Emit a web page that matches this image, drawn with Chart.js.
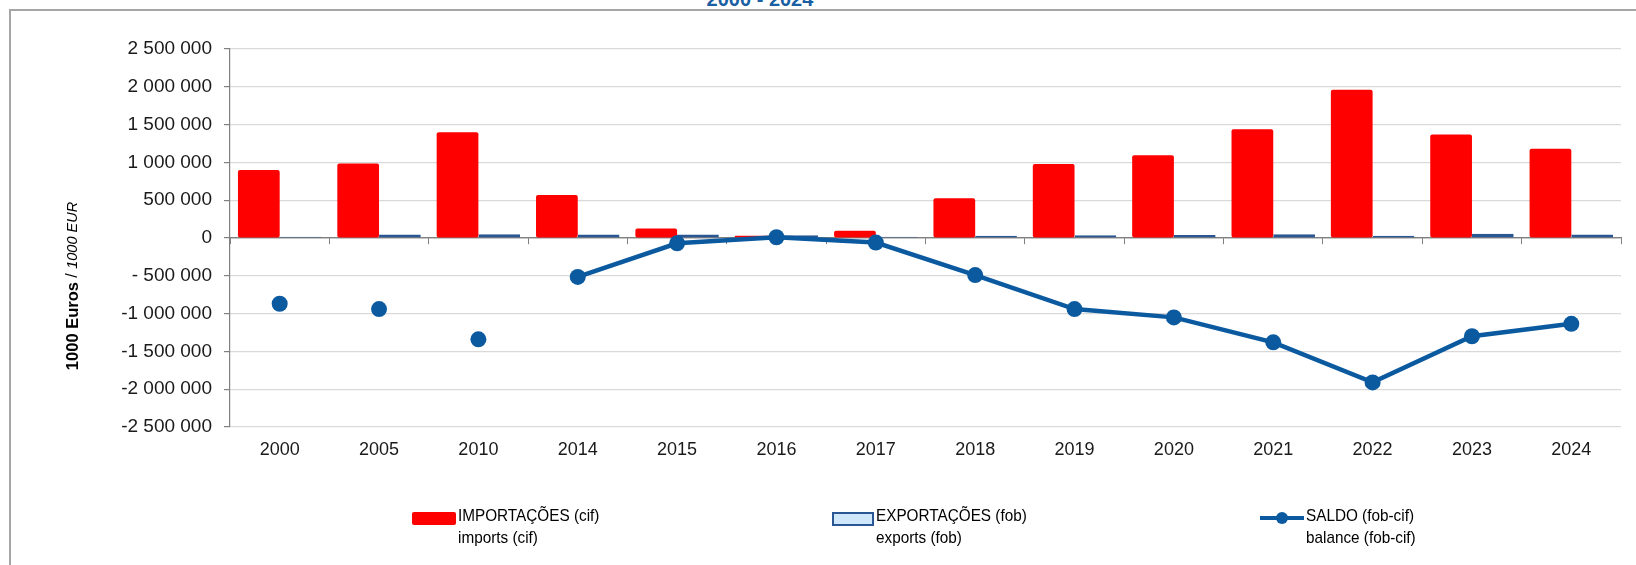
<!DOCTYPE html>
<html>
<head>
<meta charset="utf-8">
<script src="https://cdn.jsdelivr.net/npm/chart.js@4"></script>
<style>
    html, body { margin: 0; padding: 0; width: 1636px; height: 565px; overflow: hidden; background: #fff;
                 font-family: "Liberation Sans", Arial, sans-serif; }
    #frame { position: absolute; left: 9px; top: 9px; width: 1700px; height: 620px;
             border-left: 2px solid #a6a6a6; border-top: 2px solid #a6a6a6; }
    #title { position: absolute; left: 0; top: -11px; width: 1520px; text-align: center;
             font-size: 20px; line-height: 20px; font-weight: bold; color: #1a5fa3; }
    #wrap { position: absolute; left: 0; top: 0; width: 1636px; height: 565px; }
    .lg { position: absolute; top: 505px; font-size: 17px; line-height: 22px; color: #000; }
    .lg span { display: block; transform: scaleX(0.9); transform-origin: left; white-space: nowrap; }
    .sw { position: absolute; }
</style>
</head>
<body>
<div id="frame"></div>
<div id="title">2000 - 2024</div>
<div id="wrap"><canvas id="chart"></canvas></div>

<div class="sw" style="left:412px; top:512px; width:44px; height:13px; background:#ff0000; border-radius:2px;"></div>
<div class="lg" style="left:458px;"><span>IMPORTAÇÕES (cif)</span><span>imports (cif)</span></div>

<div class="sw" style="left:832px; top:512px; width:38px; height:10px; background:#cfe6fb; border:2px solid #2a5793;"></div>
<div class="lg" style="left:876px;"><span>EXPORTAÇÕES (fob)</span><span>exports (fob)</span></div>

<div class="sw" style="left:1260px; top:516px; width:44px; height:4px; background:#0b5aa0;"></div>
<div class="sw" style="left:1276px; top:512px; width:12px; height:12px; background:#0b5aa0; border-radius:50%;"></div>
<div class="lg" style="left:1306px;"><span>SALDO (fob-cif)</span><span>balance (fob-cif)</span></div>

<script>
var years = ['2000', '2005', '2010', '2014', '2015', '2016', '2017', '2018', '2019', '2020', '2021', '2022', '2023', '2024'];

var imports = [900000, 985000, 1400000, 570000, 125000, 30000, 95000, 525000, 980000, 1095000, 1440000, 1960000, 1370000, 1180000];
var exports = [15000, 45000, 50000, 45000, 45000, 35000, 15000, 30000, 35000, 40000, 50000, 30000, 55000, 45000];
var saldo   = [-870000, -940000, -1340000, -515000, -70000, 10000, -60000, -490000, -940000, -1050000, -1380000, -1910000, -1300000, -1135000];

// line only joins points from 2014 on
var firstLinkedIndex = 3;

var yTickValues = [2500000, 2000000, 1500000, 1000000, 500000, 0, -500000, -1000000, -1500000, -2000000, -2500000];
var yTickLabels = ['2 500 000', '2 000 000', '1 500 000', '1 000 000', '500 000', '0',
                   '- 500 000', '-1 000 000', '-1 500 000', '-2 000 000', '-2 500 000'];

var yTitleBold = '1000 Euros';
var yTitleSep = ' / ';
var yTitleUnit = '1000 EUR';

var FONT = '"Liberation Sans", Arial, sans-serif';

var yTitlePlugin = {
    id: 'yTitle',
    afterDraw: function(chart) {
        var ctx = chart.ctx;
        var parts = [
            [yTitleBold, 'bold 16.5px ' + FONT],
            [yTitleSep, '16px ' + FONT],
            [yTitleUnit, 'italic 14.5px ' + FONT]
        ];
        ctx.save();
        ctx.translate(73, 286);
        ctx.rotate(-Math.PI / 2);
        ctx.textBaseline = 'middle';
        ctx.textAlign = 'left';
        ctx.fillStyle = '#000';
        var total = 0;
        parts.forEach(function(p) { ctx.font = p[1]; total += ctx.measureText(p[0]).width; });
        var x = -total / 2;
        parts.forEach(function(p) {
            ctx.font = p[1];
            ctx.fillText(p[0], x, 0);
            x += ctx.measureText(p[0]).width;
        });
        ctx.restore();
    }
};

new Chart(document.getElementById('chart').getContext('2d'), {
    data: {
        labels: years,
        datasets: [
            {
                type: 'line',
                label: 'SALDO (fob-cif)',
                data: saldo,
                order: 0,
                borderColor: '#0b5aa0',
                backgroundColor: '#0b5aa0',
                borderWidth: 4.5,
                pointRadius: 8,
                pointHoverRadius: 8,
                pointBorderWidth: 0,
                tension: 0,
                segment: {
                    borderColor: function(c) { return c.p0DataIndex < firstLinkedIndex ? 'transparent' : '#0b5aa0'; }
                }
            },
            {
                type: 'bar',
                label: 'IMPORTAÇÕES (cif)',
                data: imports,
                order: 1,
                backgroundColor: '#ff0000',
                borderRadius: 2,
                borderSkipped: false,
                categoryPercentage: 0.84,
                barPercentage: 1.0
            },
            {
                type: 'bar',
                label: 'EXPORTAÇÕES (fob)',
                data: exports,
                order: 1,
                backgroundColor: '#cfe6fb',
                borderColor: '#2a5793',
                borderWidth: 2,
                borderSkipped: false,
                categoryPercentage: 0.84,
                barPercentage: 1.0
            }
        ]
    },
    options: {
        responsive: true,
        maintainAspectRatio: false,
        animation: false,
        layout: { padding: { left: 0, right: 15, top: 49, bottom: 98 } },
        plugins: {
            legend: { display: false },
            tooltip: { enabled: false }
        },
        scales: {
            x: {
                position: 'bottom',
                grid: { display: false, drawTicks: false },
                border: { display: false },
                ticks: { color: '#1a1a1a', padding: 12, font: { family: FONT, size: 18 }, maxRotation: 0 },
                afterFit: function(s) { s.height = 40; }
            },
            x2: {
                type: 'category',
                labels: years,
                position: { y: 0 },
                offset: true,
                grid: { display: true, drawOnChartArea: false, drawTicks: true, tickLength: 6,
                        offset: true, color: '#808080', tickColor: '#808080' },
                border: { display: true, color: '#808080', width: 1.2 },
                ticks: { display: false }
            },
            y: {
                min: -2500000,
                max: 2500000,
                afterBuildTicks: function(s) {
                    s.ticks = yTickValues.slice().reverse().map(function(v) { return { value: v }; });
                },
                ticks: {
                    color: '#1a1a1a',
                    padding: 12,
                    font: { family: FONT, size: 19 },
                    callback: function(v) { return yTickLabels[yTickValues.indexOf(v)]; }
                },
                grid: {
                    color: function(c) { return c.tick && c.tick.value === 0 ? '#808080' : '#d9d9d9'; },
                    tickColor: '#808080',
                    tickLength: 6,
                    lineWidth: 1.2
                },
                border: { display: true, color: '#808080', width: 1.2 },
                afterFit: function(s) { s.width = 230; }
            }
        }
    },
    plugins: [yTitlePlugin]
});
</script>
</body>
</html>
